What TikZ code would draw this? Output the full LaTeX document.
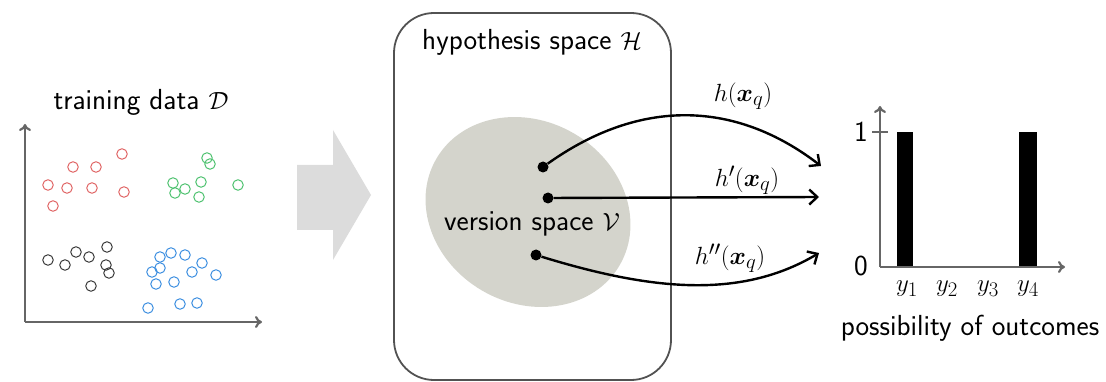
\documentclass[tikz,border=0pt]{standalone}
\usepackage{amsmath,bm}
\usetikzlibrary{arrows.meta}
\definecolor{redc}{HTML}{E06666}
\definecolor{greenc}{HTML}{4FC270}
\definecolor{blackc}{HTML}{3A3A3A}
\definecolor{bluec}{HTML}{3D8FE0}
\definecolor{axisc}{HTML}{666666}
\definecolor{blobc}{HTML}{D4D4CC}
\definecolor{bigarrow}{HTML}{DCDCDC}
\begin{document}
\begin{tikzpicture}[x=1pt,y=-1pt,
  lbl/.style={font=\fontsize{29}{33}\selectfont\sffamily, inner sep=0pt},
  mlbl/.style={font=\fontsize{29}{33}\selectfont, inner sep=0pt},
  pt/.style={draw, line width=1pt, circle, minimum size=10.5pt, inner sep=0pt},
  dot/.style={fill=black, circle, minimum size=11pt, inner sep=0pt},
  axis/.style={draw=axisc, line width=2.2pt, -{To[length=7pt,width=12pt]}},
  conn/.style={draw=black, line width=2.4pt, -{Straight Barb[length=8pt,width=15pt]}},
  bar/.style={fill=black}]
\useasboundingbox (0,0) rectangle (1106,382);
% left axes
\coordinate (o) at (25,322);
\coordinate (yt) at (25,124);
\coordinate (xt) at (262,322);
\draw[axis] (o) -- (yt);
\draw[axis] (o) -- (xt);
\node[lbl] (td) at (141,102) {training data $\mathcal{D}$};
% points
\foreach \x/\y [count=\i] in {122/154,73/167,96/167,48/185,67/188,92/188,124/192,53/206}
  \node[pt, draw=redc] (r\i) at (\x,\y) {};
\foreach \x/\y [count=\i] in {207/158,210/164,173/183,185/189,201/182,175/193,199/197,238/185}
  \node[pt, draw=greenc] (g\i) at (\x,\y) {};
\foreach \x/\y [count=\i] in {48/260,65/265,76/252,89/257,107/247,106/265,109/273,91/286}
  \node[pt, draw=blackc] (k\i) at (\x,\y) {};
\foreach \x/\y [count=\i] in {160/257,171/253,185/255,202/263,152/272,160/268,192/272,216/275,156/284,174/282,180/304,197/303,148/308}
  \node[pt, draw=bluec] (b\i) at (\x,\y) {};
% big arrow
\fill[bigarrow] (297,165) -- (333,165) -- (333,130) -- (371,195) -- (333,260) -- (333,230) -- (297,230) -- cycle;
% hypothesis box
\draw[draw=axisc!80!black, line width=1.8pt, rounded corners=40pt] (394,13) rectangle (671,380);
\node[lbl] (hs) at (532,42) {hypothesis space $\mathcal{H}$};
% version space blob
\fill[blobc, rotate around={-30:(528,212)}] (528,212) ellipse [x radius=106pt, y radius=91pt];
\node[lbl] (vs) at (532,224) {version space $\mathcal{V}$};
\node[dot] (d1) at (543,167) {};
\node[dot] (d2) at (548,198) {};
\node[dot] (d3) at (536,255) {};
\coordinate (e1) at (821,166);
\coordinate (e2) at (819,197);
\coordinate (e3) at (819,253);
\draw[conn] (d1) .. controls (640,98) and (735,100) .. (e1);
\draw[conn] (d2) -- (e2);
\draw[conn] (d3) .. controls (650,290) and (740,300) .. (e3);
\node[mlbl] (l1) at (743,96) {$h(\bm{x}_q)$};
\node[mlbl] (l2) at (747,180) {$h'(\bm{x}_q)$};
\node[mlbl] (l3) at (730,258) {$h''(\bm{x}_q)$};
% bar chart
\coordinate (bo) at (880,267);
\coordinate (byt) at (880,106);
\coordinate (bxt) at (1065,267);
\fill[bar] (897,132) rectangle (913,267);
\fill[bar] (1019,132) rectangle (1037,267);
\draw[axis] (bo) -- (byt);
\draw[axis] (bo) -- (bxt);
\coordinate (tk1) at (872,132);
\coordinate (tk2) at (888,132);
\draw[draw=axisc, line width=2.2pt] (tk1) -- (tk2);
\node[lbl] (one) at (861,132) {1};
\node[lbl] (zero) at (861,266) {0};
\node[mlbl] (y1) at (907,289) {$y_1$};
\node[mlbl] (y2) at (947,289) {$y_2$};
\node[mlbl] (y3) at (988,289) {$y_3$};
\node[mlbl] (y4) at (1028,289) {$y_4$};
\node[lbl] (po) at (970,328) {possibility of outcomes};
\end{tikzpicture}
\end{document}
